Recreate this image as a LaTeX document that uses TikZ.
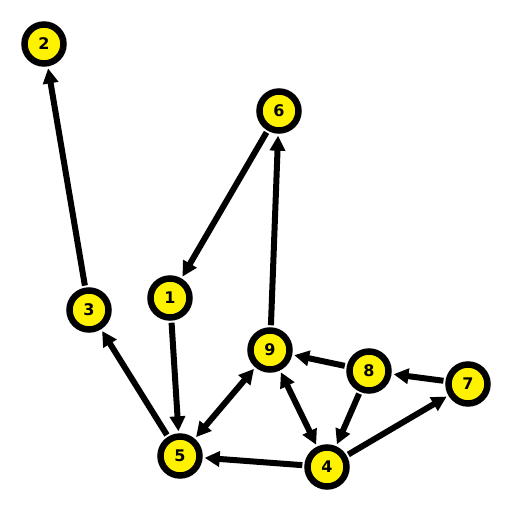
\documentclass[tikz,border=0pt]{standalone}
\usepackage{fontspec}
\setmainfont{DejaVu Sans}
\usetikzlibrary{arrows.meta}
\begin{document}
\begin{tikzpicture}[x=1pt,y=-1pt,
  vtx/.style={circle,draw=black,fill=yellow,line width=6.5pt,minimum size=39pt,inner sep=0pt,font=\bfseries\fontsize{16}{16}\selectfont},
  edge/.style={line width=6pt,-{Triangle[length=15pt,width=15pt]},shorten >=2pt,shorten <=2pt},
  bedge/.style={line width=6pt,{Triangle[length=15pt,width=15pt]}-{Triangle[length=15pt,width=15pt]},shorten >=2pt,shorten <=2pt}]
\useasboundingbox (0,0) rectangle (512,512);
\node[vtx] (n2) at (44,44) {2};
\node[vtx] (n6) at (279,111) {6};
\node[vtx] (n3) at (89,310) {3};
\node[vtx] (n1) at (170,298) {1};
\node[vtx] (n9) at (270,350) {9};
\node[vtx] (n8) at (369,371) {8};
\node[vtx] (n7) at (468,384) {7};
\node[vtx] (n5) at (180,456) {5};
\node[vtx] (n4) at (327,467) {4};
\draw[edge] (n3) -- (n2);
\draw[edge] (n6) -- (n1);
\draw[edge] (n1) -- (n5);
\draw[edge] (n5) -- (n3);
\draw[edge] (n9) -- (n6);
\draw[bedge] (n5) -- (n9);
\draw[bedge] (n4) -- (n9);
\draw[edge] (n8) -- (n9);
\draw[edge] (n8) -- (n4);
\draw[edge] (n7) -- (n8);
\draw[edge] (n4) -- (n7);
\draw[edge] (n4) -- (n5);
\end{tikzpicture}
\end{document}
